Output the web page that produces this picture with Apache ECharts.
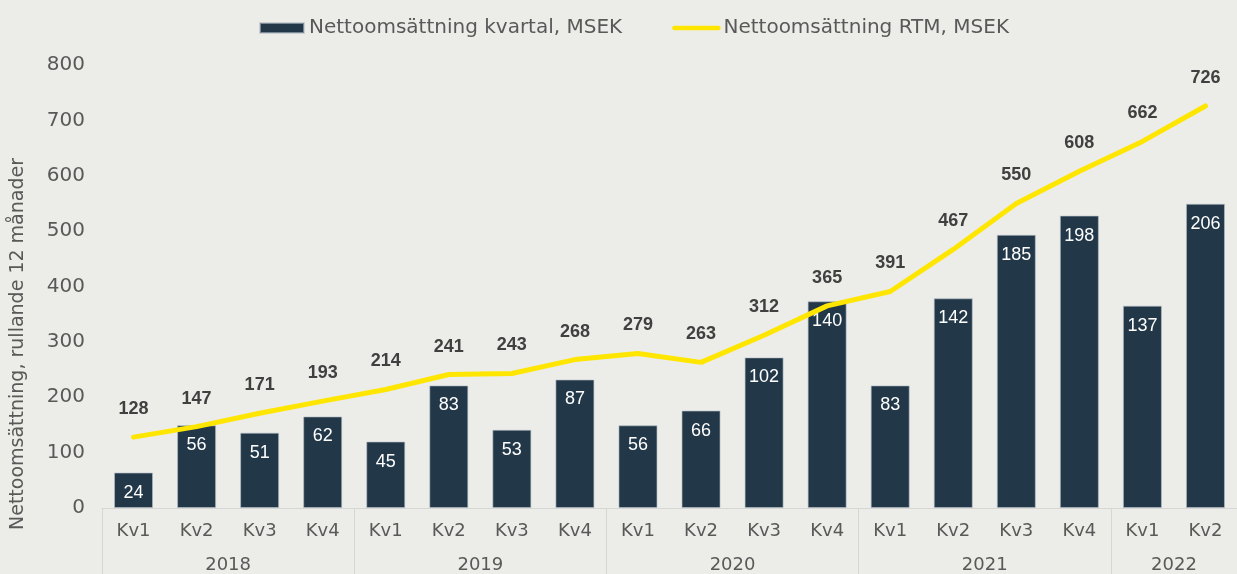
<!DOCTYPE html>
<html>
<head>
<meta charset="utf-8">
<script src="https://cdn.jsdelivr.net/npm/echarts@6/dist/echarts.min.js"></script>
<style>
  html, body { margin: 0; padding: 0; background: #ECECE8; }
  #chart { width: 1237px; height: 574px; }
</style>
</head>
<body>
<div id="chart"></div>
<script>
// ---- data ----
const quarters = ['Kv1','Kv2','Kv3','Kv4','Kv1','Kv2','Kv3','Kv4','Kv1','Kv2','Kv3','Kv4','Kv1','Kv2','Kv3','Kv4','Kv1','Kv2'];
const years = ['2018','2019','2020','2021','2022'];
const yearGroupSizes = [4, 4, 4, 4, 2];
const quarterlySales = [24, 56, 51, 62, 45, 83, 53, 87, 56, 66, 102, 140, 83, 142, 185, 198, 137, 206];
const rtmSales = [128, 147, 171, 193, 214, 241, 243, 268, 279, 263, 312, 365, 391, 467, 550, 608, 662, 726];
const seriesNames = ['Nettoomsättning kvartal, MSEK', 'Nettoomsättning RTM, MSEK'];
const yAxisTitle = 'Nettoomsättning, rullande 12 månader';

// year axis built on category boundaries
const boundaryLabels = new Array(quarters.length + 1).fill('');
const groupStarts = new Set();
let pos = 0;
years.forEach((y, i) => {
  groupStarts.add(pos);
  boundaryLabels[pos + yearGroupSizes[i] / 2] = y;
  pos += yearGroupSizes[i];
});
groupStarts.add(pos);
const boundaryCats = boundaryLabels.map((l, i) => l === '' ? ' '.repeat(i + 1) : l);

const axisText = '#595959';
const font = 'DejaVu Sans';
const lineColor = '#FFE600';

const chart = echarts.init(document.getElementById('chart'), null, { renderer: 'canvas' });
chart.setOption({
  animation: false,
  backgroundColor: '#ECECE8',
  legend: {
    left: 254, top: 13,
    itemWidth: 44, itemHeight: 10, itemGap: 50,
    textStyle: { color: axisText, fontFamily: font, fontSize: 20 },
    data: [
      { name: seriesNames[0], icon: 'rect' },
      { name: seriesNames[1], lineStyle: { width: 4.5, color: lineColor }, itemStyle: { color: 'rgba(0,0,0,0)', borderWidth: 0 } }
    ]
  },
  grid: { left: 102, right: -13, top: 65, bottom: 64, containLabel: false },
  graphic: [{
    type: 'text',
    x: 18, y: 344,
    rotation: Math.PI / 2,
    style: {
      text: yAxisTitle,
      fill: axisText, font: '19px "DejaVu Sans"',
      align: 'center', verticalAlign: 'middle'
    }
  }],
  xAxis: [{
    type: 'category',
    position: 'bottom',
    data: quarters,
    axisLine: { show: true, lineStyle: { color: '#D6D6D4', width: 1 } },
    axisTick: { show: false },
    axisLabel: { color: axisText, fontFamily: font, fontSize: 18, margin: 14, interval: 0 }
  }, {
    type: 'category',
    position: 'bottom',
    boundaryGap: false,
    data: boundaryCats,
    axisLine: { show: false },
    axisTick: {
      show: true, length: 70,
      interval: (idx) => groupStarts.has(idx),
      lineStyle: { color: '#D6D6D4', width: 1 }
    },
    axisLabel: {
      color: axisText, fontFamily: font, fontSize: 18, margin: 48,
      interval: (idx) => boundaryLabels[idx] !== '',
      formatter: (v) => v.trim()
    }
  }],
  yAxis: [{
    type: 'value', min: 0, max: 800, interval: 100,
    axisLine: { show: false }, axisTick: { show: false }, splitLine: { show: false },
    axisLabel: { color: axisText, fontFamily: font, fontSize: 20, margin: 17 }
  }, {
    type: 'value', min: 0, max: 300, show: false,
    splitLine: { show: false }
  }],
  series: [{
    name: seriesNames[0],
    type: 'bar',
    xAxisIndex: 0, yAxisIndex: 1,
    data: quarterlySales,
    barWidth: 39,
    itemStyle: { color: '#223849', borderColor: 'rgba(180,190,198,0.6)', borderWidth: 1 },
    label: {
      show: true, position: 'insideTop', distance: 11,
      color: '#FFFFFF', fontFamily: 'Liberation Sans', fontSize: 18
    },
    z: 2
  }, {
    name: seriesNames[1],
    type: 'line',
    xAxisIndex: 0, yAxisIndex: 0,
    data: rtmSales,
    symbol: 'circle', symbolSize: 2, showSymbol: true,
    lineStyle: { color: lineColor, width: 5, cap: 'round', join: 'round' },
    itemStyle: { color: 'rgba(0,0,0,0)', borderWidth: 0 },
    label: {
      show: true, position: 'top', distance: 18,
      color: '#404040', fontFamily: 'Liberation Sans', fontWeight: 'bold', fontSize: 18
    },
    z: 3
  }]
});
</script>
</body>
</html>
